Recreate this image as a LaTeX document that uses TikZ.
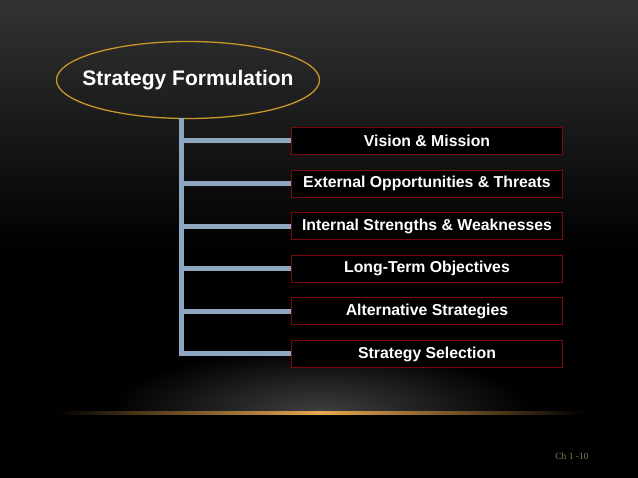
\documentclass[tikz,border=0pt]{standalone}
\usepackage{fontspec}
\setmainfont{Liberation Sans}
\newfontfamily\pagefont{Liberation Serif}
\usetikzlibrary{shapes.geometric,positioning}

\definecolor{topgray}{HTML}{333333}
\definecolor{goldline}{HTML}{C8962A}
\definecolor{branchblue}{HTML}{8EA6BF}
\definecolor{boxred}{HTML}{7A0A0A}
\definecolor{gloworange}{HTML}{E8A850}
\definecolor{pagetan}{HTML}{8C7A5C}

\begin{document}
\begin{tikzpicture}[
  x=1pt, y=1pt,
  title/.style={ellipse, draw=goldline, line width=1.3pt, inner xsep=-14pt, minimum width=263pt, minimum height=77pt, text=white, font=\bfseries\fontsize{21}{24}\selectfont},
  item/.style={rectangle, draw=boxred, line width=0.8pt, fill=black, minimum width=271pt, minimum height=27pt, text=white, font=\bfseries\fontsize{15.8}{18}\selectfont},
  branch/.style={draw=branchblue, line width=5pt},
  node distance=42.6pt
]

% Background
\useasboundingbox (0,0) rectangle (638,-478);
\fill[black] (0,0) rectangle (638,-478);
\shade[top color=topgray, bottom color=black] (0,0) rectangle (638,-250);
\begin{scope}
  \clip (0,-330) rectangle (638,-413);
  \shade[inner color=gray!50!black, outer color=black] (320,-413) ellipse (210 and 65);
\end{scope}
\shade[left color=black, right color=gloworange] (55,-412) rectangle (320,-414.5);
\shade[left color=gloworange, right color=black] (320,-412) rectangle (585,-414.5);

% Title
\node[title] (formulation) at (188,-80) {Strategy Formulation};

% Steps
\node[item] (vision) at (427,-141) {Vision \& Mission};
\node[item, below of=vision] (external) {External Opportunities \& Threats};
\node[item, below of=external] (internal) {Internal Strengths \& Weaknesses};
\node[item, below of=internal] (objectives) {Long-Term Objectives};
\node[item, below of=objectives] (alternatives) {Alternative Strategies};
\node[item, below of=alternatives] (selection) {Strategy Selection};

% Connectors
\coordinate (trunk) at (181,-118);
\draw[branch] (trunk) |- (selection.west);
\foreach \step in {vision,external,internal,objectives,alternatives}
  \draw[branch] (trunk |- \step.west) -- (\step.west);

% Page number
\node[text=pagetan, font=\pagefont\fontsize{9.5}{11}\selectfont] (pagenum) at (572,-456) {Ch 1 -10};

\end{tikzpicture}
\end{document}
